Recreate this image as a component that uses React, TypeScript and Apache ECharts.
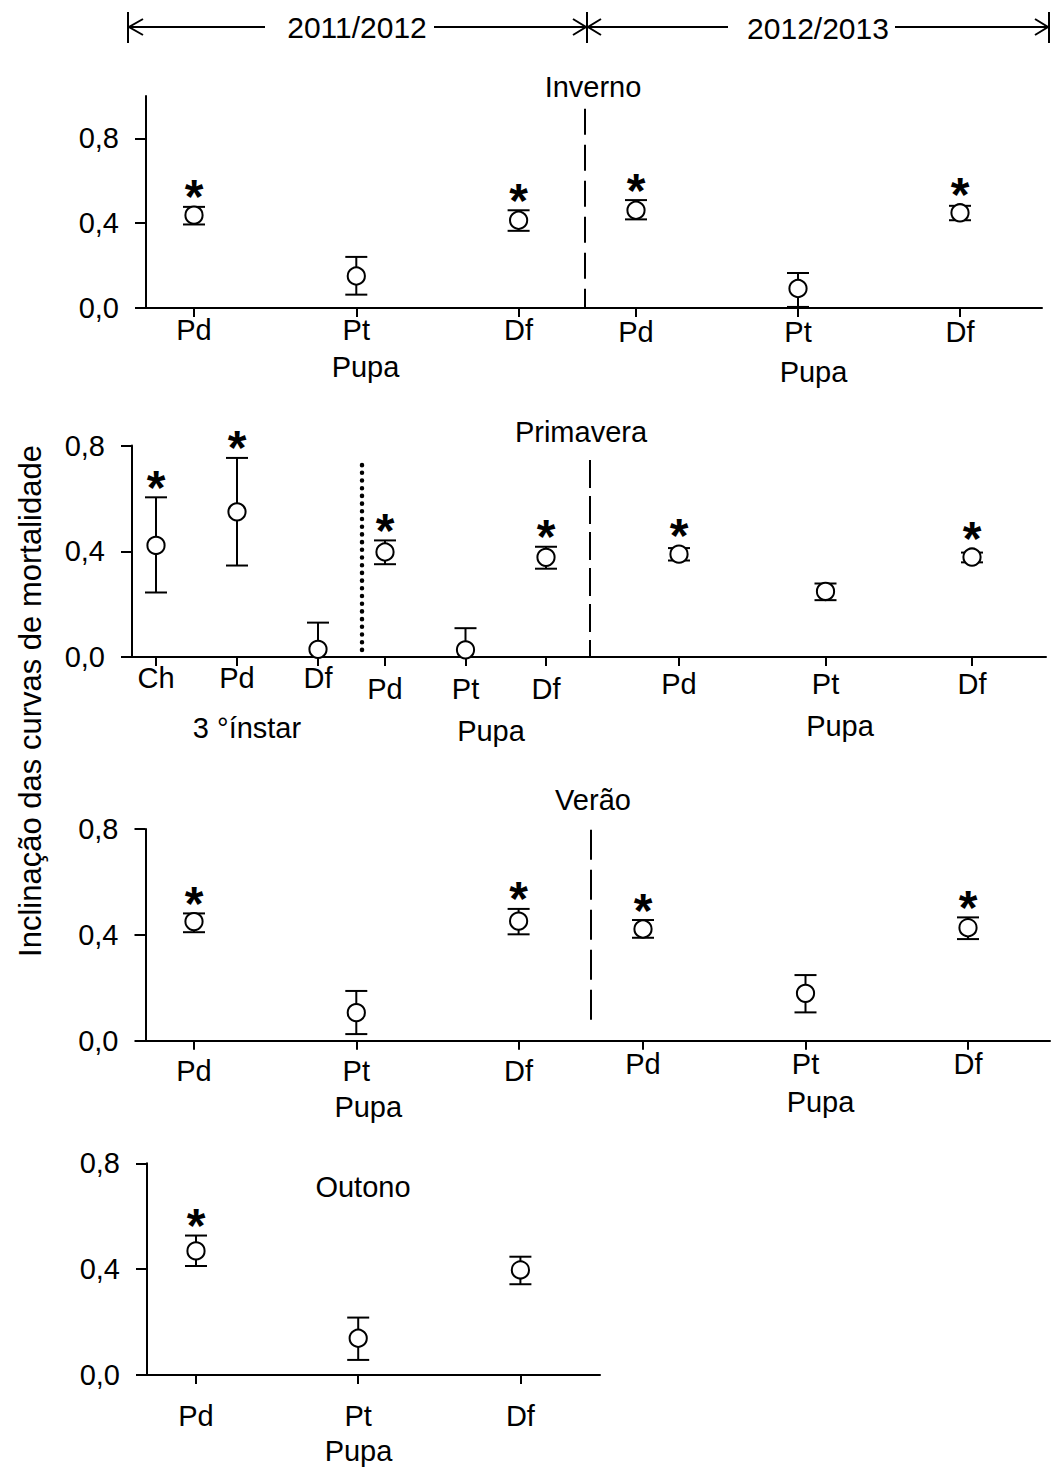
import React, { useEffect, useRef } from "react";
import * as echarts from "echarts";

// ---------- DATA ----------
const pupaCats = ["Pd", "Pt", "Df"];
const instarCats = ["Ch", "Pd", "Df"];
const yTicks = [0, 0.4, 0.8];

// Inverno 2011/2012 (Pupa)
const inv1Mean = [0.438, 0.151, 0.414];
const inv1Low = [0.394, 0.063, 0.364];
const inv1High = [0.477, 0.241, 0.461];
const inv1Sig = [1, 0, 1];
// Inverno 2012/2013 (Pupa)
const inv2Mean = [0.461, 0.092, 0.449];
const inv2Low = [0.418, 0.005, 0.414];
const inv2High = [0.509, 0.165, 0.482];
const inv2Sig = [1, 0, 1];
// Primavera 2011/2012 3º ínstar
const pri1aMean = [0.422, 0.549, 0.029];
const pri1aLow = [0.244, 0.346, -0.07];
const pri1aHigh = [0.604, 0.753, 0.13];
const pri1aSig = [1, 1, 0];
// Primavera 2011/2012 Pupa
const pri1bMean = [0.397, 0.027, 0.377];
const pri1bLow = [0.351, -0.055, 0.334];
const pri1bHigh = [0.441, 0.109, 0.417];
const pri1bSig = [1, 0, 1];
// Primavera 2012/2013 Pupa
const pri2Mean = [0.389, 0.248, 0.378];
const pri2Low = [0.365, 0.215, 0.358];
const pri2High = [0.412, 0.278, 0.395];
const pri2Sig = [1, 0, 1];
// Verão 2011/2012 Pupa
const ver1Mean = [0.45, 0.106, 0.452];
const ver1Low = [0.41, 0.025, 0.402];
const ver1High = [0.481, 0.188, 0.498];
const ver1Sig = [1, 0, 1];
// Verão 2012/2013 Pupa
const ver2Mean = [0.422, 0.179, 0.427];
const ver2Low = [0.389, 0.107, 0.384];
const ver2High = [0.456, 0.248, 0.466];
const ver2Sig = [1, 0, 1];
// Outono 2011/2012 Pupa
const outMean = [0.469, 0.139, 0.397];
const outLow = [0.412, 0.057, 0.343];
const outHigh = [0.527, 0.217, 0.447];
const outSig = [1, 0, 0];

const FONT = "'Liberation Sans', Arial, Helvetica, sans-serif";

type Spec = {
  left: number; right: number; top: number; zero: number;
  first: number; step: number; yMax: number;
  cats: string[]; mean: number[]; low: number[]; high: number[]; sig: number[];
  labelMargin: number; name: string; nameGap: number; nameShift: number;
  showY: boolean;
  divider?: { dash: number[]; cap: "round" | "butt"; width: number; from: number; to: number };
};

const specs: Spec[] = [
  // Inverno
  { left: 146, right: 585, top: 96, zero: 308, first: 194, step: 162.3, yMax: 1.0,
    cats: pupaCats, mean: inv1Mean, low: inv1Low, high: inv1High, sig: inv1Sig,
    labelMargin: 7, name: "Pupa", nameGap: 44, nameShift: 0, showY: true },
  { left: 585, right: 1042, top: 96, zero: 308, first: 636, step: 162, yMax: 1.0,
    cats: pupaCats, mean: inv2Mean, low: inv2Low, high: inv2High, sig: inv2Sig,
    labelMargin: 9, name: "Pupa", nameGap: 49, nameShift: 0, showY: false,
    divider: { dash: [26, 10], cap: "butt", width: 2, from: 0.94, to: 0 } },
  // Primavera
  { left: 132, right: 362, top: 445.5, zero: 657, first: 156, step: 81, yMax: 0.8,
    cats: instarCats, mean: pri1aMean, low: pri1aLow, high: pri1aHigh, sig: pri1aSig,
    labelMargin: 6, name: "3 °ínstar", nameGap: 56, nameShift: 0, showY: true },
  { left: 362, right: 590, top: 445.5, zero: 657, first: 385, step: 80.5, yMax: 0.8,
    cats: pupaCats, mean: pri1bMean, low: pri1bLow, high: pri1bHigh, sig: pri1bSig,
    labelMargin: 17, name: "Pupa", nameGap: 59, nameShift: 15, showY: false,
    divider: { dash: [0.1, 7.6], cap: "round", width: 4.5, from: 0.726, to: 0 } },
  { left: 590, right: 1046, top: 445.5, zero: 657, first: 679, step: 146.5, yMax: 0.8,
    cats: pupaCats, mean: pri2Mean, low: pri2Low, high: pri2High, sig: pri2Sig,
    labelMargin: 12.5, name: "Pupa", nameGap: 54, nameShift: 22, showY: false,
    divider: { dash: [28, 8], cap: "butt", width: 2, from: 0.745, to: 0 } },
  // Verão
  { left: 145.5, right: 591, top: 829, zero: 1040.7, first: 194, step: 162.3, yMax: 0.8,
    cats: pupaCats, mean: ver1Mean, low: ver1Low, high: ver1High, sig: ver1Sig,
    labelMargin: 15.5, name: "Pupa", nameGap: 52, nameShift: 0, showY: true },
  { left: 591, right: 1050, top: 829, zero: 1040.7, first: 643, step: 162.5, yMax: 0.8,
    cats: pupaCats, mean: ver2Mean, low: ver2Low, high: ver2High, sig: ver2Sig,
    labelMargin: 9, name: "Pupa", nameGap: 47, nameShift: 0, showY: false,
    divider: { dash: [30, 10], cap: "butt", width: 2, from: 0.797, to: 0.045 } },
  // Outono
  { left: 147, right: 600, top: 1163.3, zero: 1375, first: 196, step: 162.2, yMax: 0.8,
    cats: pupaCats, mean: outMean, low: outLow, high: outHigh, sig: outSig,
    labelMargin: 26, name: "Pupa", nameGap: 61, nameShift: -15, showY: true },
];

const seasonTitles = [
  { text: "Inverno", x: 593, y: 87 },
  { text: "Primavera", x: 581, y: 432 },
  { text: "Verão", x: 593, y: 800 },
  { text: "Outono", x: 363, y: 1187 },
];

function buildOption() {
  const grid: any[] = [];
  const xAxis: any[] = [];
  const yAxis: any[] = [];
  const series: any[] = [];

  specs.forEach((s, gi) => {
    grid.push({ left: s.left, top: s.top, width: s.right - s.left, height: s.zero - s.top });
    const idx = s.cats.map((_, i) => i);
    const xMin = -(s.first - s.left) / s.step;
    const xMax = (s.right - s.first) / s.step;
    const pad = s.nameShift >= 0 ? [0, 0, 0, 2 * s.nameShift] : [0, -2 * s.nameShift, 0, 0];
    xAxis.push({
      type: "value", gridIndex: gi, min: xMin, max: xMax,
      axisLine: { show: true, onZero: false, lineStyle: { color: "#000", width: 2 } },
      axisTick: { show: true, customValues: idx, length: 9, lineStyle: { color: "#000", width: 2 } },
      axisLabel: {
        show: true, customValues: idx, margin: s.labelMargin, color: "#000",
        fontSize: 29, fontFamily: FONT,
        formatter: (v: number) => s.cats[Math.round(v)] ?? "",
      },
      splitLine: { show: false },
      name: s.name, nameLocation: "middle", nameGap: s.nameGap,
      nameTextStyle: { color: "#000", fontSize: 29, fontFamily: FONT, padding: pad },
    });
    yAxis.push({
      type: "value", gridIndex: gi, min: 0, max: s.yMax, show: s.showY,
      axisLine: { show: true, onZero: false, lineStyle: { color: "#000", width: 2 } },
      axisTick: { show: true, customValues: yTicks, length: 11, lineStyle: { color: "#000", width: 2 } },
      axisLabel: {
        show: true, customValues: yTicks, margin: 27, color: "#000",
        fontSize: 29, fontFamily: FONT,
        formatter: (v: number) => v.toFixed(1).replace(".", ","),
      },
      splitLine: { show: false },
    });

    const data = s.cats.map((_, i) => [i, s.mean[i], s.low[i], s.high[i], s.sig[i]]);
    series.push({
      type: "custom", xAxisIndex: gi, yAxisIndex: gi, data, clip: false,
      encode: { x: 0, y: 1 },
      renderItem: (_p: any, api: any) => {
        const xi = api.value(0);
        const m = api.value(1);
        const lo = api.value(2);
        const hi = api.value(3);
        const sg = api.value(4);
        const c = api.coord([xi, m]);
        const zeroY = api.coord([xi, 0])[1];
        const hiY = api.coord([xi, hi])[1];
        const loY = api.coord([xi, lo])[1];
        const cap = 11;
        const r = 8.6;
        const st = { stroke: "#000", lineWidth: 2 };
        const children: any[] = [
          { type: "line", shape: { x1: c[0], y1: hiY, x2: c[0], y2: Math.min(loY, zeroY) }, style: st },
          { type: "line", shape: { x1: c[0] - cap, y1: hiY, x2: c[0] + cap, y2: hiY }, style: st },
        ];
        if (lo >= 0) {
          children.push({ type: "line", shape: { x1: c[0] - cap, y1: loY, x2: c[0] + cap, y2: loY }, style: st });
        }
        children.push({ type: "circle", shape: { cx: c[0], cy: c[1], r }, style: { fill: "#fff", stroke: "#000", lineWidth: 2 } });
        if (sg) {
          const topY = Math.min(hiY, c[1] - r);
          children.push({
            type: "text", x: c[0], y: topY - 10,
            style: { text: "*", fill: "#000", font: `bold 48px ${FONT}`, textAlign: "center", textVerticalAlign: "middle" },
          });
        }
        return { type: "group", children };
      },
      z: 5,
    });

    if (s.divider) {
      const d = s.divider;
      series.push({
        type: "line", xAxisIndex: gi, yAxisIndex: gi, clip: false, symbol: "none", silent: true,
        data: [[xMin, d.from], [xMin, d.to]],
        lineStyle: { color: "#000", width: d.width, type: d.dash, cap: d.cap },
        z: 3,
      });
    }
  });

  const hdrY = 27;
  const lineSt = { stroke: "#000", lineWidth: 2 };
  const graphic: any[] = [
    { type: "line", shape: { x1: 128, y1: 12, x2: 128, y2: 43 }, style: lineSt },
    { type: "line", shape: { x1: 587, y1: 12, x2: 587, y2: 43 }, style: lineSt },
    { type: "line", shape: { x1: 1049, y1: 12, x2: 1049, y2: 43 }, style: lineSt },
    { type: "line", shape: { x1: 128, y1: hdrY, x2: 265, y2: hdrY }, style: lineSt },
    { type: "line", shape: { x1: 434, y1: hdrY, x2: 587, y2: hdrY }, style: lineSt },
    { type: "line", shape: { x1: 587, y1: hdrY, x2: 728, y2: hdrY }, style: lineSt },
    { type: "line", shape: { x1: 895, y1: hdrY, x2: 1049, y2: hdrY }, style: lineSt },
    { type: "polyline", shape: { points: [[143, 19], [129, hdrY], [143, 35]] }, style: { ...lineSt, fill: "none" } },
    { type: "polyline", shape: { points: [[573, 19], [586, hdrY], [573, 35]] }, style: { ...lineSt, fill: "none" } },
    { type: "polyline", shape: { points: [[601, 19], [588, hdrY], [601, 35]] }, style: { ...lineSt, fill: "none" } },
    { type: "polyline", shape: { points: [[1035, 19], [1048, hdrY], [1035, 35]] }, style: { ...lineSt, fill: "none" } },
    { type: "text", x: 357, y: hdrY, style: { text: "2011/2012", fill: "#000", font: `30px ${FONT}`, textAlign: "center", textVerticalAlign: "middle" } },
    { type: "text", x: 818, y: hdrY + 1, style: { text: "2012/2013", fill: "#000", font: `30px ${FONT}`, textAlign: "center", textVerticalAlign: "middle" } },
    { type: "text", x: 30, y: 701, rotation: Math.PI / 2,
      style: { text: "Inclinação das curvas de mortalidade", fill: "#000", font: `31px ${FONT}`, textAlign: "center", textVerticalAlign: "middle" } },
  ];
  seasonTitles.forEach((t) => {
    graphic.push({ type: "text", x: t.x, y: t.y, style: { text: t.text, fill: "#000", font: `29px ${FONT}`, textAlign: "center", textVerticalAlign: "middle" } });
  });

  return { animation: false, backgroundColor: "#fff", grid, xAxis, yAxis, series, graphic };
}

export default function App() {
  const ref = useRef<HTMLDivElement>(null);
  useEffect(() => {
    if (!ref.current) return;
    const chart = echarts.init(ref.current, undefined, { renderer: "svg" });
    chart.setOption(buildOption() as any);
    return () => chart.dispose();
  }, []);
  return <div ref={ref} style={{ position: "absolute", left: 0, top: 0, width: 1056, height: 1468, background: "#fff" }} />;
}
